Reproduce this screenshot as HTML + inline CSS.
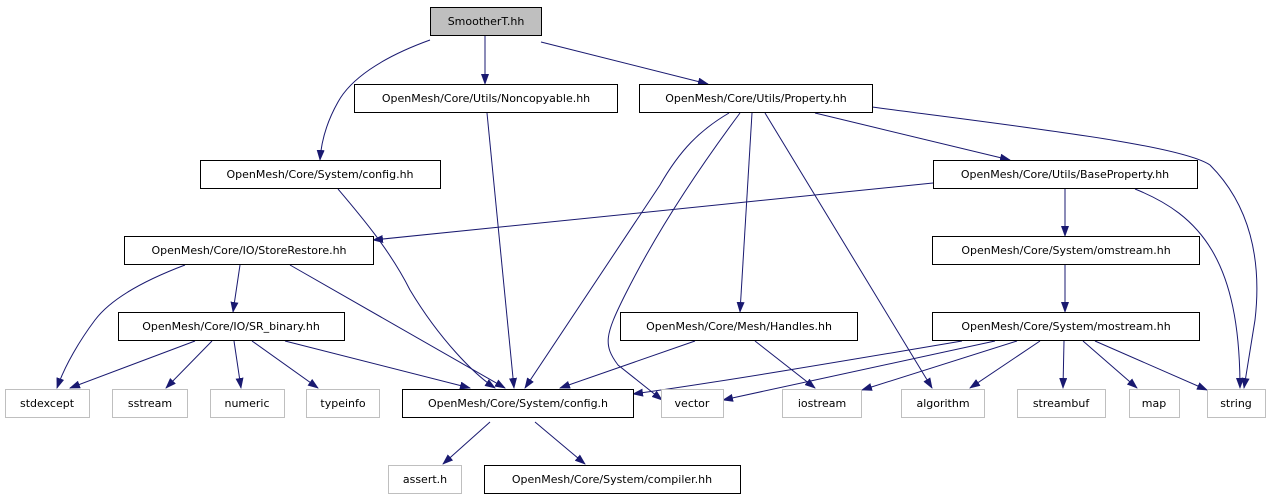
<!DOCTYPE html>
<html><head><meta charset="utf-8"><style>
html,body{margin:0;padding:0;background:#fff;}
svg{display:block;}
text{font-family:"DejaVu Sans","Liberation Sans",sans-serif;font-size:11px;fill:#000;}
</style></head><body>
<svg width="1276" height="504" viewBox="0 0 1276 504" xmlns="http://www.w3.org/2000/svg">
<defs>
<marker id="a" markerWidth="11" markerHeight="8" refX="10" refY="4" orient="auto" markerUnits="userSpaceOnUse">
<path d="M0,0 L11,4 L0,8 z" fill="#191970"/>
</marker>
</defs>
<g fill="none" stroke="#191970" stroke-width="1" marker-end="url(#a)">
<path d="M430,40 C380,58 350,80 338,102 C325,125 321,145 320,160"/>
<path d="M485,35 L485,84"/>
<path d="M541,42 L708,84"/>
<path d="M487,113 L514,388"/>
<path d="M338,189 C360,215 390,250 410,290 C440,340 475,375 495,388"/>
<path d="M729,113 C700,130 680,150 660,185 L525,388"/>
<path d="M740,113 C705,160 660,225 625,295 C605,335 603,345 618,365 L662,400"/>
<path d="M752,113 L740,312"/>
<path d="M765,113 L932,388"/>
<path d="M815,113 L1010,160"/>
<path d="M872,107 C1030,128 1180,145 1210,165 C1250,205 1262,260 1255,320 L1244,388"/>
<path d="M933,183 L373,240"/>
<path d="M1065,189 L1065,236"/>
<path d="M1135,189 C1200,215 1240,260 1240,388"/>
<path d="M185,265 C140,282 110,300 95,320 C80,340 65,365 57,388"/>
<path d="M240,265 L233,312"/>
<path d="M290,265 L505,388"/>
<path d="M1065,265 L1065,312"/>
<path d="M195,341 L70,388"/>
<path d="M212,341 L166,388"/>
<path d="M234,341 L241,388"/>
<path d="M252,341 L318,388"/>
<path d="M285,341 L470,388"/>
<path d="M695,341 L560,388"/>
<path d="M755,341 L815,388"/>
<path d="M962,341 C850,360 720,382 633,394"/>
<path d="M995,341 L723,400"/>
<path d="M1017,341 L862,390"/>
<path d="M1040,341 L970,388"/>
<path d="M1064,341 L1063,388"/>
<path d="M1083,341 L1137,388"/>
<path d="M1095,341 L1207,390"/>
<path d="M490,422 L443,464"/>
<path d="M535,422 L585,464"/>
</g>
<g stroke="#000" stroke-width="1" fill="#fff">
<rect x="430.5" y="7.5" width="111" height="28" fill="#bfbfbf"/>
<rect x="354.5" y="84.5" width="263" height="28"/>
<rect x="639.5" y="84.5" width="233" height="28"/>
<rect x="200.5" y="160.5" width="240" height="28"/>
<rect x="933.5" y="160.5" width="264" height="28"/>
<rect x="124.5" y="236.5" width="249" height="28"/>
<rect x="932.5" y="236.5" width="267" height="28"/>
<rect x="118.5" y="312.5" width="226" height="28"/>
<rect x="620.5" y="312.5" width="237" height="28"/>
<rect x="932.5" y="312.5" width="267" height="28"/>
<rect x="402.5" y="389.5" width="231" height="28"/>
<rect x="484.5" y="465.5" width="256" height="28"/>
</g>
<g stroke="#bfbfbf" stroke-width="1" fill="#fff">
<rect x="5.5" y="389.5" width="84" height="28"/>
<rect x="112.5" y="389.5" width="75" height="28"/>
<rect x="210.5" y="389.5" width="74" height="28"/>
<rect x="306.5" y="389.5" width="73" height="28"/>
<rect x="661.5" y="389.5" width="62" height="28"/>
<rect x="782.5" y="389.5" width="79" height="28"/>
<rect x="901.5" y="389.5" width="83" height="28"/>
<rect x="1017.5" y="389.5" width="88" height="28"/>
<rect x="1129.5" y="389.5" width="50" height="28"/>
<rect x="1207.5" y="389.5" width="58" height="28"/>
<rect x="388.5" y="465.5" width="73" height="28"/>
</g>
<g text-anchor="middle">
<text x="486" y="25">SmootherT.hh</text>
<text x="486" y="102">OpenMesh/Core/Utils/Noncopyable.hh</text>
<text x="756" y="102">OpenMesh/Core/Utils/Property.hh</text>
<text x="320" y="178">OpenMesh/Core/System/config.hh</text>
<text x="1065" y="178">OpenMesh/Core/Utils/BaseProperty.hh</text>
<text x="249" y="254">OpenMesh/Core/IO/StoreRestore.hh</text>
<text x="1066" y="254">OpenMesh/Core/System/omstream.hh</text>
<text x="231" y="330">OpenMesh/Core/IO/SR_binary.hh</text>
<text x="739" y="330">OpenMesh/Core/Mesh/Handles.hh</text>
<text x="1066" y="330">OpenMesh/Core/System/mostream.hh</text>
<text x="518" y="407">OpenMesh/Core/System/config.h</text>
<text x="612" y="483">OpenMesh/Core/System/compiler.hh</text>
<text x="47" y="407">stdexcept</text>
<text x="150" y="407">sstream</text>
<text x="247" y="407">numeric</text>
<text x="343" y="407">typeinfo</text>
<text x="692" y="407">vector</text>
<text x="822" y="407">iostream</text>
<text x="943" y="407">algorithm</text>
<text x="1061" y="407">streambuf</text>
<text x="1154" y="407">map</text>
<text x="1236" y="407">string</text>
<text x="425" y="483">assert.h</text>
</g>
</svg>
</body></html>
